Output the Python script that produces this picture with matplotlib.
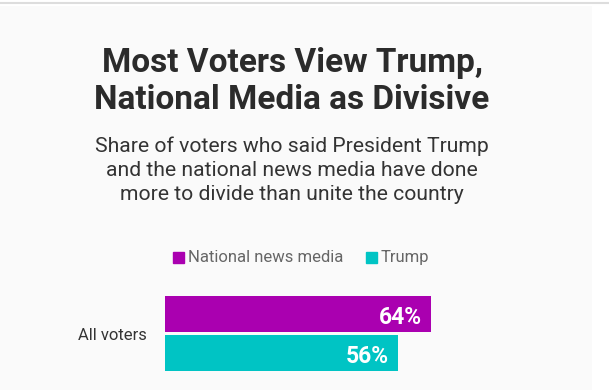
import matplotlib.pyplot as plt
from matplotlib.patches import Rectangle

# data
groups = ["All voters"]
series = ["National news media", "Trump"]
values = [64, 56]
colors = ["#aa00b0", "#00c4c4"]

W, H = 609, 390
fig = plt.figure(figsize=(W / 100, H / 100), dpi=100, facecolor="white")

# light panel background + top rule
bg = fig.add_axes([0, 0, 592 / W, 1 - 6 / H])
bg.set_facecolor("#fafafa")
bg.set_xticks([]), bg.set_yticks([])
for s in bg.spines.values():
    s.set_visible(False)
fig.add_artist(plt.Line2D([0, 1], [1 - 3 / H, 1 - 3 / H], color="#dddddd", lw=1.5))

def fy(py):
    return 1 - py / H

title = ["Most Voters View Trump,", "National Media as Divisive"]
for line, base in zip(title, [72, 109]):
    fig.text(292 / W, fy(base), line, ha="center", va="baseline",
             family="Roboto", weight="bold", fontsize=24, color="#2b2b2b")

subtitle = ["Share of voters who said President Trump",
            "and the national news media have done",
            "more to divide than unite the country"]
for i, line in enumerate(subtitle):
    fig.text(292 / W, fy(152 + 24 * i), line, ha="center", va="baseline",
             family="Roboto", fontsize=15.2, color="#333333")

# legend
leg_x = [173, 366]
for name, c, x in zip(series, colors, leg_x):
    fig.add_artist(Rectangle((x / W, fy(263)), 11 / W, 11 / H, color=c,
                             transform=fig.transFigure))
    fig.text((x + 15) / W, fy(262), name, ha="left", va="baseline",
             family="Roboto", fontsize=12, color="#666666")

# bars
ax = fig.add_axes([165 / W, fy(376.4), 415.6 / W, 85.8 / H])
ax.set_xlim(0, 100)
ax.set_ylim(1.6, -0.6)
ax.barh(range(len(values)), values, height=0.92, color=colors)
for i, v in enumerate(values):
    ax.annotate(f"{v}%", (v, i), xytext=(-6.5, -7.2), textcoords="offset points",
                ha="right", va="baseline", family="Roboto",
                weight="bold", fontsize=16.5, color="white")
ax.axis("off")
fig.text(147 / W, fy(340), groups[0], ha="right", va="baseline",
         family="Roboto", fontsize=12, color="#333333")

fig.savefig("out.png", dpi=100, facecolor="white")
